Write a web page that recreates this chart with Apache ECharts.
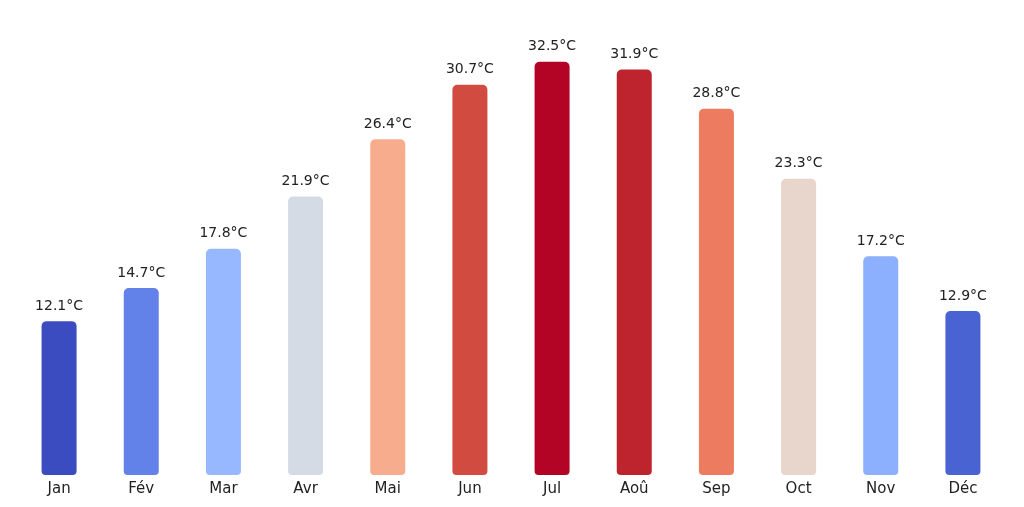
<!DOCTYPE html>
<html lang="fr">
<head>
<meta charset="UTF-8">
<script src="https://cdn.jsdelivr.net/npm/echarts@6/dist/echarts.min.js"></script>
<style>
  html, body { margin: 0; padding: 0; background: #fff; }
  #chart { width: 1024px; height: 507px; }
</style>
</head>
<body>
<div id="chart"></div>
<script>
var months = ['Jan', 'Fév', 'Mar', 'Avr', 'Mai', 'Jun', 'Jul', 'Aoû', 'Sep', 'Oct', 'Nov', 'Déc'];
var temps = [12.1, 14.7, 17.8, 21.9, 26.4, 30.7, 32.5, 31.9, 28.8, 23.3, 17.2, 12.9];
var colors = ['#3b4cc0', '#6282ea', '#97b8ff', '#d5dbe5', '#f7ac8e', '#d24b40', '#b40426', '#be242e', '#ec7b5f', '#e8d6cc', '#8caffe', '#4a63d3'];

var chart = echarts.init(document.getElementById('chart'));
chart.setOption({
  animation: false,
  grid: { left: 18, right: 20, top: 30, bottom: 32 },
  xAxis: {
    type: 'category',
    data: months,
    axisLine: { show: false },
    axisTick: { show: false },
    axisLabel: { color: '#222', fontSize: 15, fontFamily: 'DejaVu Sans', margin: 7 }
  },
  yAxis: { type: 'value', min: 0, max: 35, show: false, splitLine: { show: false } },
  series: [{
    type: 'bar',
    barWidth: 35,
    data: temps.map(function (v, i) {
      return { value: v, itemStyle: { color: colors[i] } };
    }),
    itemStyle: { borderRadius: [5, 5, 4, 4] },
    label: {
      show: true,
      position: 'top',
      distance: 8,
      color: '#222',
      fontSize: 14,
      fontFamily: 'DejaVu Sans',
      formatter: function (p) { return p.value.toFixed(1) + '°C'; }
    }
  }]
});
</script>
</body>
</html>
